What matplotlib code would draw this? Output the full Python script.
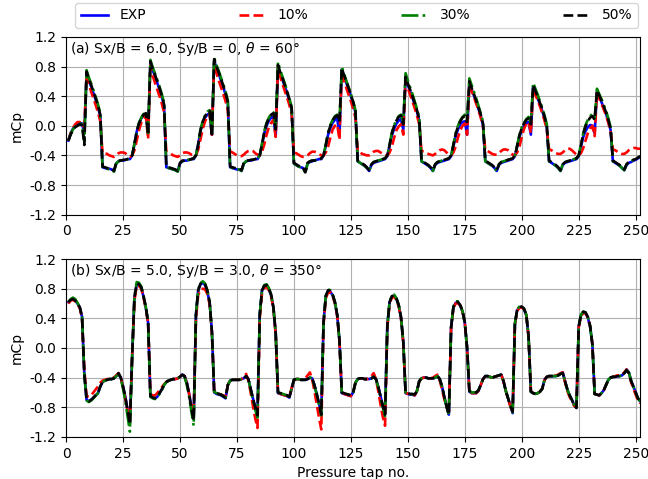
import numpy as np
import matplotlib
matplotlib.use('Agg')
import matplotlib.pyplot as plt

# pressure taps 1..252, 9 faces of 28 taps each
taps = np.arange(1, 253)

# ---- (a) Sx/B = 6.0, Sy/B = 0, theta = 60 ----
a_exp = [
    [-0.20, -0.10, -0.04, 0.00, 0.02, 0.04, 0.03, -0.10, 0.71, 0.61, 0.53, 0.44, 0.35, 0.25, 0.13, -0.56, -0.57, -0.58, -0.58, -0.59, -0.61, -0.51, -0.48, -0.47, -0.47, -0.46, -0.45, -0.45],
    [-0.40, -0.25, -0.08, 0.03, 0.10, 0.14, 0.15, -0.10, 0.85, 0.75, 0.67, 0.58, 0.49, 0.39, 0.27, -0.56, -0.57, -0.58, -0.59, -0.60, -0.61, -0.51, -0.48, -0.47, -0.47, -0.46, -0.45, -0.45],
    [-0.40, -0.25, -0.07, 0.04, 0.11, 0.15, 0.17, -0.12, 0.88, 0.78, 0.70, 0.61, 0.52, 0.42, 0.30, -0.56, -0.57, -0.58, -0.59, -0.59, -0.61, -0.51, -0.48, -0.47, -0.47, -0.46, -0.45, -0.45],
    [-0.40, -0.26, -0.10, 0.00, 0.07, 0.11, 0.12, -0.14, 0.80, 0.70, 0.62, 0.53, 0.44, 0.34, 0.22, -0.51, -0.53, -0.55, -0.56, -0.57, -0.62, -0.51, -0.49, -0.48, -0.47, -0.46, -0.45, -0.45],
    [-0.40, -0.27, -0.12, -0.03, 0.04, 0.08, 0.10, -0.12, 0.76, 0.66, 0.58, 0.49, 0.40, 0.30, 0.18, -0.48, -0.50, -0.52, -0.54, -0.57, -0.61, -0.53, -0.50, -0.49, -0.48, -0.47, -0.46, -0.45],
    [-0.41, -0.27, -0.13, -0.04, 0.03, 0.07, 0.09, -0.05, 0.64, 0.55, 0.47, 0.38, 0.29, 0.19, 0.07, -0.48, -0.50, -0.52, -0.54, -0.57, -0.61, -0.53, -0.50, -0.49, -0.48, -0.47, -0.46, -0.45],
    [-0.41, -0.28, -0.14, -0.05, 0.02, 0.05, 0.06, -0.12, 0.57, 0.49, 0.41, 0.32, 0.23, 0.13, 0.01, -0.48, -0.50, -0.52, -0.54, -0.57, -0.61, -0.53, -0.50, -0.49, -0.48, -0.47, -0.46, -0.45],
    [-0.41, -0.28, -0.15, -0.06, 0.00, 0.04, 0.05, -0.12, 0.53, 0.45, 0.37, 0.29, 0.20, 0.10, -0.02, -0.48, -0.50, -0.52, -0.54, -0.57, -0.61, -0.53, -0.50, -0.49, -0.48, -0.47, -0.46, -0.45],
    [-0.41, -0.28, -0.15, -0.07, -0.02, 0.01, 0.00, -0.10, 0.46, 0.39, 0.32, 0.24, 0.16, 0.06, -0.06, -0.48, -0.50, -0.52, -0.54, -0.57, -0.60, -0.53, -0.50, -0.49, -0.47, -0.46, -0.44, -0.42],
]
a_10 = [
    [-0.20, -0.10, -0.03, 0.02, 0.05, 0.05, 0.02, -0.02, 0.70, 0.56, 0.46, 0.37, 0.28, 0.18, 0.06, -0.37, -0.37, -0.38, -0.40, -0.41, -0.42, -0.40, -0.37, -0.36, -0.36, -0.37, -0.40, -0.42],
    [-0.40, -0.33, -0.20, -0.06, 0.04, 0.10, 0.14, -0.18, 0.82, 0.68, 0.58, 0.49, 0.40, 0.30, 0.18, -0.36, -0.37, -0.38, -0.40, -0.41, -0.42, -0.40, -0.37, -0.36, -0.36, -0.37, -0.39, -0.40],
    [-0.40, -0.32, -0.18, -0.04, 0.06, 0.12, 0.15, -0.12, 0.85, 0.71, 0.61, 0.52, 0.43, 0.33, 0.21, -0.35, -0.36, -0.38, -0.40, -0.41, -0.41, -0.39, -0.36, -0.34, -0.33, -0.34, -0.37, -0.39],
    [-0.40, -0.35, -0.25, -0.12, -0.02, 0.04, 0.08, -0.15, 0.80, 0.66, 0.56, 0.47, 0.38, 0.28, 0.16, -0.36, -0.37, -0.39, -0.41, -0.42, -0.42, -0.40, -0.37, -0.35, -0.35, -0.36, -0.38, -0.40],
    [-0.40, -0.36, -0.28, -0.16, -0.05, 0.00, 0.02, -0.19, 0.74, 0.61, 0.51, 0.42, 0.33, 0.23, 0.11, -0.35, -0.36, -0.38, -0.39, -0.40, -0.40, -0.38, -0.35, -0.34, -0.34, -0.36, -0.38, -0.40],
    [-0.40, -0.36, -0.28, -0.16, -0.06, -0.01, 0.02, -0.12, 0.62, 0.51, 0.42, 0.33, 0.24, 0.14, 0.02, -0.34, -0.35, -0.37, -0.38, -0.39, -0.40, -0.38, -0.35, -0.33, -0.32, -0.33, -0.36, -0.39],
    [-0.40, -0.36, -0.28, -0.16, -0.06, 0.00, 0.03, -0.12, 0.56, 0.47, 0.39, 0.30, 0.21, 0.11, -0.01, -0.33, -0.34, -0.36, -0.38, -0.39, -0.39, -0.37, -0.34, -0.32, -0.32, -0.33, -0.36, -0.39],
    [-0.40, -0.36, -0.28, -0.15, -0.04, 0.03, 0.05, -0.10, 0.50, 0.42, 0.34, 0.26, 0.17, 0.07, -0.05, -0.32, -0.33, -0.35, -0.37, -0.38, -0.38, -0.36, -0.33, -0.31, -0.31, -0.33, -0.36, -0.39],
    [-0.40, -0.37, -0.30, -0.20, -0.10, -0.04, 0.00, -0.14, 0.44, 0.37, 0.30, 0.22, 0.14, 0.04, -0.08, -0.32, -0.33, -0.35, -0.37, -0.38, -0.38, -0.36, -0.33, -0.31, -0.30, -0.30, -0.31, -0.31],
]
a_30 = [
    [-0.20, -0.11, -0.05, -0.01, 0.01, 0.03, 0.02, -0.22, 0.75, 0.65, 0.57, 0.48, 0.39, 0.29, 0.17, -0.56, -0.57, -0.58, -0.59, -0.59, -0.62, -0.51, -0.48, -0.47, -0.46, -0.46, -0.45, -0.44],
    [-0.40, -0.24, -0.07, 0.04, 0.11, 0.16, 0.18, -0.10, 0.89, 0.79, 0.71, 0.62, 0.53, 0.43, 0.31, -0.56, -0.57, -0.58, -0.59, -0.60, -0.62, -0.51, -0.48, -0.47, -0.46, -0.46, -0.45, -0.44],
    [-0.40, -0.24, -0.05, 0.07, 0.14, 0.19, 0.21, -0.12, 0.92, 0.82, 0.74, 0.65, 0.56, 0.46, 0.34, -0.56, -0.57, -0.58, -0.59, -0.59, -0.61, -0.51, -0.48, -0.47, -0.46, -0.46, -0.45, -0.44],
    [-0.40, -0.24, -0.07, 0.04, 0.11, 0.16, 0.18, -0.02, 0.86, 0.75, 0.66, 0.57, 0.47, 0.37, 0.25, -0.51, -0.53, -0.55, -0.56, -0.57, -0.64, -0.51, -0.48, -0.47, -0.47, -0.46, -0.45, -0.44],
    [-0.40, -0.25, -0.09, 0.01, 0.08, 0.13, 0.15, 0.06, 0.80, 0.70, 0.61, 0.52, 0.43, 0.33, 0.21, -0.48, -0.50, -0.52, -0.54, -0.57, -0.61, -0.52, -0.49, -0.48, -0.47, -0.46, -0.45, -0.44],
    [-0.40, -0.25, -0.09, 0.01, 0.08, 0.13, 0.15, 0.04, 0.71, 0.61, 0.52, 0.43, 0.33, 0.23, 0.11, -0.48, -0.50, -0.52, -0.54, -0.57, -0.61, -0.52, -0.49, -0.48, -0.47, -0.46, -0.45, -0.44],
    [-0.40, -0.25, -0.10, 0.00, 0.07, 0.12, 0.15, 0.07, 0.64, 0.55, 0.46, 0.37, 0.27, 0.17, 0.05, -0.48, -0.50, -0.52, -0.54, -0.57, -0.61, -0.52, -0.49, -0.48, -0.47, -0.46, -0.45, -0.44],
    [-0.40, -0.26, -0.12, -0.02, 0.04, 0.09, 0.12, 0.04, 0.58, 0.50, 0.42, 0.33, 0.24, 0.14, 0.02, -0.48, -0.50, -0.52, -0.54, -0.57, -0.61, -0.52, -0.49, -0.48, -0.47, -0.46, -0.45, -0.44],
    [-0.40, -0.25, -0.10, 0.01, 0.08, 0.13, 0.16, 0.10, 0.50, 0.43, 0.36, 0.28, 0.20, 0.10, -0.02, -0.48, -0.50, -0.52, -0.54, -0.57, -0.60, -0.52, -0.49, -0.48, -0.46, -0.45, -0.43, -0.41],
]
a_50 = [
    [-0.20, -0.12, -0.06, -0.02, 0.00, 0.02, 0.01, -0.26, 0.73, 0.63, 0.55, 0.46, 0.37, 0.27, 0.15, -0.55, -0.56, -0.57, -0.58, -0.58, -0.61, -0.50, -0.47, -0.47, -0.46, -0.46, -0.45, -0.44],
    [-0.40, -0.25, -0.08, 0.03, 0.10, 0.15, 0.17, -0.12, 0.87, 0.77, 0.69, 0.60, 0.51, 0.41, 0.29, -0.55, -0.56, -0.57, -0.58, -0.59, -0.61, -0.50, -0.47, -0.47, -0.46, -0.46, -0.45, -0.44],
    [-0.40, -0.25, -0.06, 0.06, 0.13, 0.18, 0.20, -0.15, 0.90, 0.80, 0.72, 0.63, 0.54, 0.44, 0.32, -0.55, -0.56, -0.57, -0.58, -0.58, -0.60, -0.50, -0.47, -0.47, -0.46, -0.46, -0.45, -0.44],
    [-0.40, -0.25, -0.08, 0.03, 0.10, 0.15, 0.17, -0.05, 0.82, 0.72, 0.64, 0.55, 0.46, 0.36, 0.24, -0.50, -0.52, -0.54, -0.55, -0.56, -0.63, -0.50, -0.48, -0.47, -0.47, -0.46, -0.45, -0.44],
    [-0.40, -0.26, -0.10, 0.00, 0.07, 0.12, 0.14, 0.05, 0.78, 0.68, 0.60, 0.51, 0.42, 0.32, 0.20, -0.47, -0.49, -0.51, -0.53, -0.56, -0.60, -0.52, -0.49, -0.48, -0.47, -0.46, -0.45, -0.44],
    [-0.40, -0.26, -0.10, 0.00, 0.07, 0.12, 0.14, 0.02, 0.66, 0.57, 0.49, 0.40, 0.31, 0.21, 0.09, -0.47, -0.49, -0.51, -0.53, -0.56, -0.60, -0.52, -0.49, -0.48, -0.47, -0.46, -0.45, -0.44],
    [-0.40, -0.26, -0.11, -0.01, 0.06, 0.11, 0.13, 0.05, 0.60, 0.51, 0.43, 0.34, 0.25, 0.15, 0.03, -0.47, -0.49, -0.51, -0.53, -0.56, -0.60, -0.52, -0.49, -0.48, -0.47, -0.46, -0.45, -0.44],
    [-0.40, -0.27, -0.13, -0.03, 0.03, 0.08, 0.10, 0.02, 0.55, 0.47, 0.39, 0.31, 0.22, 0.12, 0.00, -0.47, -0.49, -0.51, -0.53, -0.56, -0.60, -0.52, -0.49, -0.48, -0.47, -0.46, -0.45, -0.44],
    [-0.40, -0.26, -0.11, -0.01, 0.06, 0.11, 0.13, 0.08, 0.48, 0.41, 0.34, 0.26, 0.18, 0.08, -0.04, -0.47, -0.49, -0.51, -0.53, -0.56, -0.59, -0.52, -0.49, -0.48, -0.46, -0.45, -0.43, -0.41],
]

# ---- (b) Sx/B = 5.0, Sy/B = 3.0, theta = 350 ----
b_exp = [
    [0.62, 0.65, 0.66, 0.64, 0.60, 0.55, 0.42, -0.35, -0.70, -0.72, -0.70, -0.67, -0.64, -0.61, -0.52, -0.46, -0.44, -0.43, -0.42, -0.42, -0.41, -0.38, -0.35, -0.40, -0.52, -0.66, -0.84, -1.00],
    [-0.10, 0.68, 0.86, 0.85, 0.81, 0.69, 0.54, 0.34, -0.65, -0.67, -0.68, -0.66, -0.61, -0.56, -0.50, -0.46, -0.44, -0.43, -0.42, -0.42, -0.41, -0.39, -0.36, -0.38, -0.47, -0.62, -0.80, -0.95],
    [0.45, 0.78, 0.86, 0.88, 0.85, 0.76, 0.61, 0.22, -0.60, -0.62, -0.63, -0.64, -0.66, -0.68, -0.50, -0.44, -0.43, -0.43, -0.43, -0.43, -0.42, -0.41, -0.38, -0.42, -0.55, -0.68, -0.80, -0.90],
    [0.45, 0.78, 0.83, 0.84, 0.79, 0.71, 0.54, 0.20, -0.61, -0.62, -0.63, -0.64, -0.65, -0.67, -0.55, -0.43, -0.42, -0.42, -0.43, -0.43, -0.43, -0.42, -0.40, -0.41, -0.50, -0.62, -0.75, -0.89],
    [0.35, 0.70, 0.77, 0.76, 0.71, 0.61, 0.44, 0.10, -0.61, -0.62, -0.63, -0.64, -0.65, -0.60, -0.47, -0.42, -0.41, -0.41, -0.42, -0.42, -0.42, -0.41, -0.39, -0.42, -0.52, -0.65, -0.78, -0.89],
    [0.30, 0.62, 0.69, 0.70, 0.66, 0.57, 0.41, 0.08, -0.61, -0.62, -0.63, -0.63, -0.64, -0.58, -0.45, -0.41, -0.40, -0.40, -0.41, -0.41, -0.41, -0.40, -0.38, -0.42, -0.52, -0.66, -0.79, -0.90],
    [0.28, 0.55, 0.61, 0.61, 0.57, 0.49, 0.34, 0.00, -0.59, -0.61, -0.61, -0.61, -0.58, -0.50, -0.42, -0.38, -0.38, -0.39, -0.40, -0.39, -0.38, -0.37, -0.36, -0.45, -0.58, -0.68, -0.78, -0.88],
    [0.33, 0.51, 0.55, 0.55, 0.52, 0.44, 0.15, -0.59, -0.61, -0.62, -0.61, -0.59, -0.55, -0.43, -0.39, -0.38, -0.38, -0.38, -0.38, -0.37, -0.35, -0.33, -0.45, -0.56, -0.64, -0.70, -0.77, -0.81],
    [0.29, 0.44, 0.48, 0.47, 0.41, 0.29, 0.05, -0.62, -0.63, -0.64, -0.61, -0.57, -0.50, -0.43, -0.40, -0.39, -0.39, -0.38, -0.38, -0.37, -0.34, -0.29, -0.33, -0.44, -0.52, -0.60, -0.68, -0.72],
]
b_10 = [
    [0.60, 0.64, 0.65, 0.63, 0.59, 0.54, 0.40, -0.30, -0.65, -0.66, -0.64, -0.60, -0.56, -0.52, -0.47, -0.44, -0.43, -0.42, -0.42, -0.41, -0.40, -0.37, -0.34, -0.40, -0.53, -0.68, -0.85, -1.00],
    [-0.10, 0.64, 0.84, 0.84, 0.80, 0.68, 0.53, 0.33, -0.62, -0.64, -0.64, -0.61, -0.57, -0.53, -0.49, -0.46, -0.44, -0.43, -0.42, -0.42, -0.41, -0.39, -0.35, -0.38, -0.48, -0.62, -0.78, -0.90],
    [0.40, 0.72, 0.79, 0.80, 0.79, 0.73, 0.59, 0.20, -0.59, -0.61, -0.62, -0.63, -0.64, -0.66, -0.50, -0.44, -0.43, -0.43, -0.43, -0.43, -0.42, -0.39, -0.35, -0.44, -0.60, -0.78, -0.95, -1.08],
    [0.40, 0.74, 0.81, 0.83, 0.78, 0.70, 0.53, 0.18, -0.60, -0.62, -0.63, -0.64, -0.65, -0.66, -0.54, -0.44, -0.42, -0.42, -0.43, -0.43, -0.41, -0.37, -0.33, -0.42, -0.58, -0.76, -0.94, -1.10],
    [0.32, 0.67, 0.75, 0.75, 0.70, 0.60, 0.43, 0.08, -0.60, -0.62, -0.63, -0.64, -0.65, -0.60, -0.47, -0.42, -0.41, -0.41, -0.42, -0.42, -0.41, -0.38, -0.34, -0.42, -0.58, -0.76, -0.93, -1.05],
    [0.28, 0.60, 0.68, 0.69, 0.65, 0.56, 0.40, 0.07, -0.60, -0.62, -0.63, -0.63, -0.64, -0.58, -0.45, -0.41, -0.40, -0.40, -0.41, -0.41, -0.40, -0.38, -0.36, -0.44, -0.56, -0.69, -0.80, -0.86],
    [0.27, 0.54, 0.60, 0.61, 0.57, 0.49, 0.34, 0.00, -0.58, -0.61, -0.61, -0.61, -0.58, -0.50, -0.42, -0.38, -0.38, -0.39, -0.40, -0.39, -0.38, -0.37, -0.36, -0.45, -0.58, -0.69, -0.79, -0.86],
    [0.32, 0.50, 0.54, 0.55, 0.52, 0.44, 0.15, -0.58, -0.61, -0.62, -0.61, -0.59, -0.55, -0.43, -0.39, -0.38, -0.38, -0.38, -0.37, -0.36, -0.34, -0.33, -0.46, -0.58, -0.66, -0.72, -0.78, -0.80],
    [0.28, 0.43, 0.47, 0.47, 0.41, 0.29, 0.05, -0.62, -0.63, -0.64, -0.61, -0.57, -0.50, -0.43, -0.40, -0.39, -0.38, -0.37, -0.37, -0.36, -0.33, -0.29, -0.34, -0.46, -0.55, -0.63, -0.71, -0.75],
]
b_30 = [
    [0.62, 0.66, 0.68, 0.66, 0.61, 0.55, 0.42, -0.36, -0.71, -0.73, -0.71, -0.68, -0.64, -0.61, -0.52, -0.46, -0.44, -0.43, -0.42, -0.42, -0.41, -0.38, -0.34, -0.41, -0.55, -0.72, -0.93, -1.13],
    [-0.12, 0.70, 0.89, 0.88, 0.83, 0.70, 0.55, 0.35, -0.66, -0.68, -0.69, -0.67, -0.62, -0.57, -0.50, -0.46, -0.44, -0.43, -0.42, -0.42, -0.41, -0.39, -0.36, -0.39, -0.50, -0.66, -0.86, -1.05],
    [0.46, 0.79, 0.88, 0.90, 0.87, 0.78, 0.62, 0.22, -0.59, -0.61, -0.62, -0.63, -0.65, -0.67, -0.50, -0.44, -0.43, -0.43, -0.43, -0.43, -0.42, -0.41, -0.38, -0.42, -0.56, -0.70, -0.83, -0.94],
    [0.45, 0.79, 0.85, 0.86, 0.81, 0.72, 0.55, 0.20, -0.60, -0.61, -0.62, -0.63, -0.64, -0.66, -0.55, -0.43, -0.42, -0.42, -0.43, -0.43, -0.43, -0.42, -0.40, -0.41, -0.51, -0.63, -0.76, -0.91],
    [0.35, 0.71, 0.79, 0.78, 0.72, 0.62, 0.44, 0.10, -0.60, -0.61, -0.62, -0.63, -0.64, -0.60, -0.47, -0.42, -0.41, -0.41, -0.42, -0.42, -0.42, -0.41, -0.39, -0.42, -0.53, -0.66, -0.80, -0.92],
    [0.30, 0.63, 0.71, 0.72, 0.67, 0.58, 0.41, 0.08, -0.60, -0.61, -0.62, -0.63, -0.64, -0.58, -0.45, -0.41, -0.40, -0.40, -0.41, -0.41, -0.41, -0.40, -0.38, -0.42, -0.52, -0.66, -0.79, -0.91],
    [0.28, 0.56, 0.63, 0.63, 0.58, 0.50, 0.34, 0.00, -0.58, -0.60, -0.60, -0.60, -0.57, -0.50, -0.42, -0.38, -0.38, -0.39, -0.40, -0.39, -0.38, -0.37, -0.36, -0.45, -0.58, -0.68, -0.78, -0.87],
    [0.33, 0.52, 0.56, 0.57, 0.53, 0.45, 0.15, -0.59, -0.61, -0.62, -0.61, -0.59, -0.55, -0.43, -0.39, -0.38, -0.38, -0.38, -0.38, -0.37, -0.35, -0.34, -0.45, -0.56, -0.64, -0.70, -0.77, -0.82],
    [0.29, 0.45, 0.49, 0.48, 0.42, 0.29, 0.05, -0.62, -0.63, -0.64, -0.61, -0.57, -0.50, -0.43, -0.40, -0.39, -0.39, -0.38, -0.38, -0.37, -0.34, -0.30, -0.33, -0.44, -0.52, -0.60, -0.68, -0.72],
]
b_50 = [
    [0.62, 0.65, 0.66, 0.64, 0.60, 0.55, 0.42, -0.35, -0.70, -0.72, -0.70, -0.67, -0.64, -0.61, -0.52, -0.46, -0.44, -0.43, -0.42, -0.42, -0.41, -0.38, -0.34, -0.40, -0.52, -0.66, -0.85, -1.03],
    [-0.10, 0.68, 0.87, 0.86, 0.82, 0.70, 0.55, 0.35, -0.65, -0.67, -0.68, -0.66, -0.61, -0.56, -0.50, -0.46, -0.44, -0.43, -0.42, -0.42, -0.41, -0.39, -0.36, -0.38, -0.47, -0.62, -0.82, -0.98],
    [0.45, 0.78, 0.87, 0.89, 0.86, 0.77, 0.62, 0.22, -0.59, -0.61, -0.62, -0.63, -0.65, -0.67, -0.50, -0.44, -0.43, -0.43, -0.43, -0.43, -0.42, -0.41, -0.38, -0.42, -0.55, -0.68, -0.80, -0.91],
    [0.45, 0.78, 0.84, 0.85, 0.80, 0.72, 0.55, 0.20, -0.60, -0.61, -0.62, -0.63, -0.64, -0.66, -0.55, -0.43, -0.42, -0.42, -0.43, -0.43, -0.43, -0.42, -0.40, -0.41, -0.50, -0.62, -0.75, -0.90],
    [0.35, 0.70, 0.78, 0.77, 0.72, 0.62, 0.45, 0.10, -0.60, -0.61, -0.62, -0.63, -0.64, -0.60, -0.47, -0.42, -0.41, -0.41, -0.42, -0.42, -0.42, -0.41, -0.39, -0.42, -0.52, -0.65, -0.78, -0.90],
    [0.30, 0.62, 0.70, 0.71, 0.67, 0.58, 0.42, 0.08, -0.60, -0.61, -0.62, -0.62, -0.63, -0.58, -0.45, -0.41, -0.40, -0.40, -0.41, -0.41, -0.41, -0.40, -0.38, -0.42, -0.52, -0.66, -0.79, -0.90],
    [0.28, 0.55, 0.62, 0.62, 0.58, 0.50, 0.35, 0.00, -0.58, -0.60, -0.60, -0.60, -0.57, -0.50, -0.42, -0.38, -0.38, -0.39, -0.40, -0.39, -0.38, -0.37, -0.36, -0.45, -0.58, -0.68, -0.78, -0.86],
    [0.33, 0.52, 0.55, 0.56, 0.53, 0.45, 0.15, -0.59, -0.61, -0.62, -0.61, -0.59, -0.55, -0.43, -0.39, -0.38, -0.38, -0.38, -0.38, -0.37, -0.35, -0.34, -0.45, -0.56, -0.64, -0.70, -0.77, -0.81],
    [0.29, 0.45, 0.49, 0.48, 0.42, 0.30, 0.05, -0.62, -0.63, -0.64, -0.61, -0.57, -0.50, -0.43, -0.40, -0.39, -0.39, -0.38, -0.38, -0.37, -0.34, -0.30, -0.34, -0.45, -0.52, -0.60, -0.68, -0.72],
]

labels = ['EXP', '10%', '30%', '50%']
colors = ['blue', 'red', 'green', 'black']
styles = ['-', '--', '-.', '--']

panels = [
    ([a_exp, a_10, a_30, a_50], r'(a) Sx/B = 6.0, Sy/B = 0, $\theta$ = 60°'),
    ([b_exp, b_10, b_30, b_50], r'(b) Sx/B = 5.0, Sy/B = 3.0, $\theta$ = 350°'),
]

fig, axes = plt.subplots(2, 1, figsize=(6.48, 4.79), dpi=100)
fig.subplots_adjust(left=0.102, right=0.988, top=0.923, bottom=0.088, hspace=0.25)

for ax, (series, title) in zip(axes, panels):
    for rows, lab, c, ls in zip(series, labels, colors, styles):
        ax.plot(taps, np.concatenate(rows), color=c, linestyle=ls, linewidth=1.9, label=lab)
    ax.set_xlim(0, 252)
    ax.set_ylim(-1.2, 1.2)
    ax.set_xticks(np.arange(0, 251, 25))
    ax.set_yticks(np.arange(-1.2, 1.21, 0.4))
    ax.yaxis.set_major_formatter(matplotlib.ticker.FormatStrFormatter('%.1f'))
    ax.grid(True, color='#b0b0b0', linewidth=0.8)
    ax.set_ylabel('mCp')
    ax.text(0.006, 0.985, title, transform=ax.transAxes, ha='left', va='top', fontsize=10)

axes[1].set_xlabel('Pressure tap no.')

handles, labs = axes[0].get_legend_handles_labels()
fig.legend(handles, labs, loc='lower left', ncol=4, mode='expand',
           bbox_to_anchor=(75 / 648, 1 - 28 / 479, 563 / 648, 25 / 479),
           fontsize=10, borderaxespad=0.0)

fig.savefig('out.png', dpi=100)
